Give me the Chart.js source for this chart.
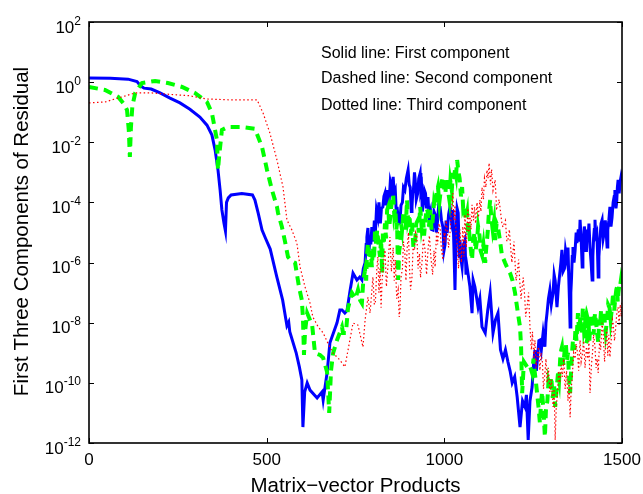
<!DOCTYPE html>
<html>
<head>
<meta charset="utf-8">
<script src="https://cdn.jsdelivr.net/npm/chart.js@4"></script>
<style>
  body { margin: 0; background: #fff; }
  #wrap { width: 643px; height: 494px; }
</style>
</head>
<body>
<div id="wrap"><canvas id="resChart" width="643" height="494"></canvas></div>
<script>
// each entry: [matrix-vector products, log10 of the residual component]
const blueData = [[0,0.14],[60,0.13],[110,0.10],[135,0.02],[145,-0.12],[155,-0.20],[175,-0.23],[200,-0.36],[228,-0.53],[256,-0.69],[284,-0.90],[312,-1.16],[332,-1.43],[346,-1.76],[355,-2.26],[363,-2.92],[369,-3.59],[374,-4.25],[380,-4.70],[384,-4.95],[387,-4.00],[392,-3.85],[400,-3.75],[430,-3.70],[460,-3.75],[467,-3.92],[476,-4.35],[487,-4.92],[497,-5.20],[510,-5.55],[528,-6.45],[545,-7.25],[557,-8.10],[562,-7.98],[565,-8.30],[583,-9.00],[592,-9.47],[599,-9.90],[602,-11.47],[607,-10.30],[614,-10.00],[622,-10.24],[642,-10.50],[656,-10.30],[659,-10.57],[670,-9.67],[678,-8.67],[698,-8.00],[706,-7.58],[712,-7.58],[720,-7.68],[726,-7.60],[735,-6.91],[743,-6.35],[754,-6.58],[762,-6.48],[768,-6.58],[772,-6.20],[777,-6.00],
    [780,-5.40],[782,-5.15],[785,-4.85],[788,-5.60],[791,-5.10],[793,-5.40],[796,-4.82],[800,-5.30],[803,-4.60],[805,-5.25],[809,-4.25],[813,-4.49],[816,-4.00],[820,-4.70],[823,-4.20],[827,-4.15],[830,-3.80],[833,-3.69],[836,-4.10],[839,-3.59],[842,-4.20],[845,-3.90],[848,-3.30],[850,-3.40],[853,-3.80],[856,-3.15],[859,-3.70],[862,-3.60],[865,-4.40],[867,-4.15],[871,-4.70],[875,-4.68],[878,-4.10],[882,-4.00],[885,-3.50],[889,-3.59],[893,-3.20],[898,-2.92],[901,-3.40],[904,-3.50],[907,-4.30],[909,-4.15],[911,-3.70],[913,-3.60],[916,-3.00],[918,-3.25],[921,-3.90],[925,-3.70],[928,-3.20],[932,-3.02],[934,-3.60],[936,-3.50],[938,-4.30],[940,-4.15],[944,-3.60],[947,-3.70],[950,-4.20],[954,-3.82],[957,-4.50],[961,-4.30],[964,-4.90],[968,-4.92],[971,-4.30],[974,-4.40],[978,-5.00],[981,-4.60],[984,-4.10],[988,-4.15],[992,-4.60],[996,-4.82],[999,-5.60],[1002,-5.40],[1005,-4.60],[1008,-5.02],[1012,-4.40],[1016,-4.15],[1020,-4.60],[1024,-4.25],[1027,-5.50],[1030,-6.91],[1033,-5.00],[1036,-4.20],[1039,-4.35],[1042,-5.80],[1044,-5.25],[1047,-5.90],[1050,-6.15],[1054,-5.40],[1058,-5.25],[1061,-6.40],[1064,-6.15],
    [1072,-6.80],[1078,-7.68],[1081,-6.58],[1086,-6.81],[1095,-7.48],[1100,-7.20],[1106,-8.14],[1115,-8.34],[1122,-7.60],[1129,-7.00],[1137,-8.34],[1144,-7.90],[1151,-7.68],[1158,-8.90],[1165,-9.20],[1172,-8.90],[1179,-9.30],[1185,-9.60],[1191,-10.00],[1198,-9.80],[1205,-10.47],[1213,-11.47],[1220,-10.60],[1227,-10.80],[1231,-10.40],[1236,-11.90],[1241,-10.60],
    [1247,-10.14],[1251,-9.40],[1255,-8.91],[1259,-9.60],[1262,-9.20],[1266,-8.60],[1269,-8.58],[1273,-8.90],[1278,-8.34],[1283,-8.80],[1286,-8.00],[1289,-7.68],[1293,-7.20],[1297,-6.91],[1301,-7.40],[1306,-7.01],[1309,-6.40],[1312,-6.60],[1317,-7.48],[1321,-6.80],[1325,-6.35],[1328,-6.00],[1331,-5.58],[1334,-6.30],[1338,-6.20],[1341,-5.60],[1345,-5.91],[1348,-5.50],[1350,-6.40],[1352,-7.20],[1354,-8.14],[1356,-7.00],[1358,-6.50],[1360,-5.80],[1362,-5.48],[1365,-6.00],[1368,-5.60],[1371,-5.00],[1373,-5.35],[1377,-4.90],[1380,-5.30],[1382,-4.58],[1385,-5.20],[1388,-6.15],[1390,-5.60],[1392,-5.20],[1394,-4.80],[1396,-5.02],[1398,-5.60],[1400,-5.60],[1402,-4.90],[1404,-5.25],[1407,-4.70],[1410,-5.50],[1413,-6.00],[1416,-6.58],[1418,-5.80],[1420,-5.20],[1422,-4.90],[1424,-4.58],[1426,-5.10],[1429,-5.00],[1431,-5.60],[1433,-6.48],[1435,-5.80],[1438,-5.20],[1441,-4.70],[1444,-4.58],[1447,-5.20],[1450,-5.00],[1453,-4.60],[1456,-5.10],[1458,-5.48],[1460,-4.90],[1463,-4.60],[1466,-4.15],[1469,-4.80],[1472,-4.50],[1475,-4.00],[1478,-3.80],[1480,-3.59],[1483,-4.20],[1485,-4.00],[1487,-3.50],[1489,-3.25],[1492,-3.70],[1495,-3.30],[1498,-3.10],[1500,-3.19]];

const greenData = [[0,-0.16],[45,-0.26],[82,-0.49],[100,-0.75],[107,-0.93],[112,-1.60],[115,-2.49],[118,-1.50],[122,-0.80],[130,-0.36],[149,-0.03],[186,0.04],[222,-0.03],[262,-0.16],[298,-0.36],[332,-0.66],[346,-1.03],[360,-1.92],[363,-2.92],[366,-2.50],[374,-1.59],[391,-1.49],[430,-1.49],[467,-1.55],[487,-2.16],[501,-2.92],[515,-3.59],[529,-4.15],[532,-4.35],[543,-4.82],[552,-5.32],[560,-5.81],[570,-5.95],[580,-6.01],[591,-6.81],[599,-7.25],[602,-7.81],[605,-9.07],[608,-8.30],[614,-7.68],[628,-8.08],[636,-9.01],[650,-9.07],[659,-9.17],[670,-9.64],[676,-11.00],[681,-9.60],[687,-9.01],[698,-8.58],[712,-8.14],[715,-8.34],[723,-8.34],[729,-7.51],[740,-7.01],[750,-7.20],[757,-6.91],[763,-7.25],[768,-7.35],[772,-6.58],[777,-6.25],
    [780,-6.60],[782,-5.81],[785,-5.35],[788,-5.90],[790,-6.15],[793,-5.60],[796,-6.15],[799,-5.48],[802,-5.90],[805,-4.92],[808,-5.40],[811,-4.92],[815,-5.40],[819,-5.81],[822,-5.20],[825,-6.35],[827,-5.02],[830,-5.30],[833,-4.70],[836,-5.20],[839,-4.25],[842,-4.15],[845,-4.80],[847,-4.58],[851,-4.10],[856,-3.75],[859,-4.40],[862,-4.20],[865,-4.90],[867,-4.68],[870,-6.58],[873,-5.60],[876,-5.40],[878,-4.70],[881,-4.92],[885,-4.30],[888,-4.40],[891,-4.90],[895,-3.92],[898,-4.60],[902,-4.40],[905,-5.10],[909,-4.68],[913,-5.50],[918,-5.25],[921,-4.70],[925,-4.60],[928,-5.00],[932,-4.15],[936,-4.80],[940,-4.50],[943,-5.10],[946,-4.68],[950,-4.20],[953,-4.30],[957,-4.80],[960,-4.25],[964,-4.90],[967,-4.60],[971,-4.00],[974,-4.15],[978,-3.70],[982,-3.49],[986,-4.00],[990,-3.60],[993,-3.30],[996,-3.15],[1000,-3.60],[1003,-3.70],[1006,-3.20],[1010,-3.59],[1014,-3.90],[1017,-3.30],[1021,-3.60],[1024,-3.02],[1027,-3.30],[1030,-2.90],[1033,-3.10],[1036,-2.59],[1040,-3.00],[1043,-3.20],[1047,-3.80],[1050,-3.49],[1053,-4.20],[1056,-4.10],[1060,-4.60],[1064,-4.35],[1067,-5.10],[1070,-5.00],[1074,-5.50],[1078,-5.91],[1081,-5.30],[1085,-5.00],[1088,-5.60],[1092,-5.25],[1095,-4.80],[1099,-5.10],[1102,-5.60],[1106,-5.75],[1110,-5.40],[1115,-6.01],[1118,-5.50],[1122,-5.00],[1125,-4.40],[1129,-3.92],[1132,-4.50],[1136,-4.90],[1140,-4.60],[1143,-5.25],[1147,-4.70],[1151,-4.82],
    [1157,-5.30],[1162,-5.75],[1171,-6.01],[1178,-6.20],[1185,-6.35],[1192,-6.60],[1199,-7.01],[1207,-7.68],[1213,-8.14],[1216,-8.80],[1219,-10.34],[1224,-9.30],[1233,-9.47],[1240,-9.40],
    [1247,-9.67],[1251,-9.20],[1254,-9.60],[1258,-10.00],[1261,-10.34],[1265,-10.80],[1269,-11.34],[1272,-10.70],[1275,-10.30],[1279,-10.90],[1283,-11.80],[1286,-10.90],[1290,-10.60],[1293,-10.00],[1297,-10.24],[1301,-9.80],[1305,-10.50],[1309,-10.10],[1312,-10.80],[1316,-10.20],[1320,-9.67],[1323,-9.90],[1326,-9.20],[1329,-8.90],[1331,-8.81],[1335,-9.40],[1338,-9.00],[1342,-8.70],[1345,-9.24],[1348,-9.00],[1350,-9.60],[1352,-10.00],[1354,-10.34],[1356,-9.80],[1358,-9.30],[1360,-8.90],[1362,-8.58],[1366,-8.90],[1369,-8.20],[1372,-8.60],[1376,-7.68],[1379,-8.30],[1383,-7.80],[1386,-8.40],[1390,-7.48],[1393,-8.20],[1396,-8.00],[1399,-8.70],[1402,-8.58],[1404,-7.90],[1406,-8.00],[1408,-8.60],[1410,-8.24],[1413,-7.70],[1417,-7.80],[1420,-8.40],[1424,-7.68],[1427,-8.00],[1430,-8.30],[1433,-8.67],[1436,-7.90],[1438,-8.10],[1441,-7.60],[1444,-8.14],[1447,-7.60],[1451,-7.90],[1454,-8.30],[1458,-7.91],[1461,-7.40],[1465,-7.50],[1468,-7.90],[1472,-7.48],[1475,-7.01],[1478,-7.60],[1481,-7.20],[1484,-6.90],[1486,-6.81],[1488,-7.30],[1490,-7.00],[1493,-6.70],[1495,-6.75],[1498,-6.50],[1500,-6.60]];

const redData = [[0,-0.69],[45,-0.66],[93,-0.49],[130,-0.36],[177,-0.36],[220,-0.40],[280,-0.45],[332,-0.56],[400,-0.59],[473,-0.59],[490,-1.03],[509,-1.69],[529,-2.59],[546,-3.49],[557,-4.58],[571,-4.92],[585,-5.35],[594,-6.15],[608,-6.81],[622,-7.35],[630,-7.81],[645,-8.14],[659,-8.34],[673,-8.70],[687,-9.01],[706,-9.24],[720,-9.47],[729,-8.91],[743,-8.01],[757,-8.08],[771,-8.81],[777,-7.91],[785,-7.15],[791,-7.68],
    [799,-6.48],[803,-7.40],[806,-7.30],[810,-6.20],[813,-5.81],[816,-7.00],[819,-6.20],[822,-7.50],[825,-6.58],[829,-6.00],[833,-5.58],[837,-6.80],[842,-6.01],[845,-5.40],[847,-5.15],[851,-6.30],[856,-5.50],[859,-6.60],[862,-5.91],[866,-7.20],[870,-6.91],[873,-7.81],[875,-7.60],[878,-6.50],[882,-6.20],[885,-5.30],[889,-5.70],[892,-6.60],[895,-5.58],[899,-5.00],[902,-6.20],[905,-6.90],[909,-6.48],[912,-5.50],[916,-5.60],[919,-5.00],[923,-5.15],[926,-6.20],[930,-5.70],[933,-6.50],[937,-6.01],[941,-5.20],[946,-5.60],[950,-6.40],[954,-5.58],[958,-5.10],[962,-5.80],[967,-6.40],[971,-5.60],[974,-6.15],[978,-5.00],[981,-5.40],[985,-4.70],[988,-4.82],[992,-5.60],[996,-5.91],[999,-5.00],[1002,-5.20],[1005,-4.60],[1008,-4.92],[1012,-5.50],[1016,-5.00],[1020,-4.30],[1024,-3.69],[1027,-4.60],[1030,-4.10],[1033,-5.00],[1036,-5.50],[1040,-6.20],[1044,-4.90],[1048,-6.00],[1052,-4.80],[1055,-5.80],[1058,-4.40],[1062,-5.50],[1066,-4.20],[1069,-5.00],[1072,-4.40],[1075,-4.90],[1078,-4.08],[1082,-4.60],[1085,-4.15],[1088,-4.70],[1092,-4.00],[1096,-4.50],[1100,-3.92],[1103,-4.30],[1106,-3.50],[1110,-3.90],[1113,-3.20],[1117,-3.50],[1120,-2.92],[1123,-3.20],[1126,-2.69],[1130,-3.40],[1133,-2.90],[1137,-3.60],[1143,-3.25],[1147,-4.20],[1150,-4.15],[1154,-3.90],[1158,-4.30],[1162,-4.70],[1165,-4.82],
    [1172,-4.60],[1176,-5.30],[1179,-5.25],[1183,-4.90],[1186,-5.40],[1190,-6.00],[1193,-5.68],[1196,-5.30],[1199,-6.00],[1202,-6.60],[1205,-6.35],[1209,-5.90],[1212,-6.60],[1216,-7.20],[1219,-6.81],[1222,-6.50],[1226,-7.10],[1229,-7.80],[1233,-7.48],[1237,-7.00],
    [1241,-8.14],[1245,-8.90],[1248,-8.30],[1252,-9.20],[1255,-8.58],[1258,-9.50],[1261,-9.14],[1265,-8.80],[1269,-9.58],[1272,-9.00],[1276,-9.30],[1279,-10.20],[1283,-9.70],[1286,-9.20],[1289,-10.00],[1293,-9.50],[1297,-10.30],[1301,-9.90],[1306,-10.80],[1309,-10.20],[1312,-11.90],[1315,-10.80],[1318,-10.40],[1322,-9.60],[1325,-10.00],[1329,-9.40],[1332,-9.80],[1336,-9.20],[1340,-10.20],[1344,-9.60],[1348,-10.60],[1351,-9.90],[1354,-11.14],[1357,-10.20],[1360,-9.80],[1364,-9.00],[1368,-9.20],[1371,-8.70],[1375,-9.00],[1378,-9.60],[1382,-8.58],[1385,-9.30],[1389,-9.01],[1392,-8.60],[1396,-9.50],[1400,-8.80],[1404,-9.20],[1407,-8.60],[1410,-10.34],[1414,-9.40],[1417,-9.00],[1420,-8.40],[1424,-8.81],[1427,-9.50],[1430,-9.20],[1433,-9.67],[1437,-8.60],[1440,-8.90],[1444,-8.00],[1447,-8.34],[1451,-9.30],[1454,-8.70],[1457,-8.20],[1460,-9.10],[1463,-8.40],[1466,-9.14],[1470,-8.50],[1473,-7.90],[1475,-8.01],[1479,-8.60],[1482,-8.20],[1486,-7.60],[1489,-7.48],[1492,-8.10],[1495,-7.40],[1498,-7.80],[1500,-7.25]];

const xTicks = [0, 500, 1000, 1500];
const yTickExps = [2, 0, -2, -4, -6, -8, -10, -12];
const noteLines = ["Solid line: First component", "Dashed line: Second component", "Dotted line: Third component"];

function toPoints(rows) {
    return rows.map(r => ({ x: r[0], y: Math.pow(10, r[1]) }));
}

const FONT = '"Liberation Sans", Arial, sans-serif';

// frame, inward ticks, tick labels with superscripts, titles and notes
const decor = {
    id: "decor",
    afterDraw(chart) {
        const ctx = chart.ctx;
        const a = chart.chartArea;
        const xs = chart.scales.x, ys = chart.scales.y;
        ctx.save();
        ctx.strokeStyle = "#000";
        ctx.lineWidth = 1;
        ctx.beginPath();
        xTicks.forEach(v => {
            const px = Math.round(xs.getPixelForValue(v)) + 0.5;
            ctx.moveTo(px, a.bottom); ctx.lineTo(px, a.bottom - 5);
            ctx.moveTo(px, a.top); ctx.lineTo(px, a.top + 5);
        });
        yTickExps.forEach(e => {
            const py = Math.round(ys.getPixelForValue(Math.pow(10, e))) + 0.5;
            ctx.moveTo(a.left, py); ctx.lineTo(a.left + 5, py);
            ctx.moveTo(a.right, py); ctx.lineTo(a.right - 5, py);
        });
        ctx.stroke();
        ctx.lineWidth = 1.6;
        ctx.strokeRect(a.left, a.top, a.right - a.left, a.bottom - a.top);

        ctx.fillStyle = "#000";
        ctx.textBaseline = "alphabetic";
        // x tick labels
        ctx.font = "17px " + FONT;
        ctx.textAlign = "center";
        xTicks.forEach(v => ctx.fillText(String(v), xs.getPixelForValue(v), a.bottom + 22));
        // y tick labels 10^e
        ctx.textAlign = "right";
        yTickExps.forEach(e => {
            const py = ys.getPixelForValue(Math.pow(10, e));
            const right = a.left - 8;
            ctx.font = "12px " + FONT;
            const ew = ctx.measureText(String(e)).width;
            ctx.fillText(String(e), right, py + 2.5);
            ctx.font = "17px " + FONT;
            ctx.fillText("10", right - ew, py + 10.5);
        });
        // axis titles
        ctx.font = "20.5px " + FONT;
        ctx.textAlign = "center";
        ctx.fillText("Matrix\u2212vector Products", (a.left + a.right) / 2, 492);
        ctx.save();
        ctx.translate(28, (a.top + a.bottom) / 2 - 1);
        ctx.rotate(-Math.PI / 2);
        ctx.fillText("First Three Components of Residual", 0, 0);
        ctx.restore();
        // notes
        ctx.font = "16px " + FONT;
        ctx.textAlign = "left";
        const baseY = [58, 83, 109.5];
        noteLines.forEach((t, i) => ctx.fillText(t, 321, baseY[i]));
        ctx.restore();
    }
};

new Chart(document.getElementById("resChart").getContext("2d"), {
    type: "line",
    data: {
        datasets: [
            {
                label: "First component",
                data: toPoints(blueData),
                borderColor: "#0000ff",
                borderWidth: 3,
                order: 3
            },
            {
                label: "Second component",
                data: toPoints(greenData),
                borderColor: "#00ff00",
                borderWidth: 4,
                borderDash: [9, 6],
                order: 2
            },
            {
                label: "Third component",
                data: toPoints(redData),
                borderColor: "#ff0000",
                borderWidth: 1.2,
                borderDash: [1.5, 2.5],
                order: 1
            }
        ]
    },
    options: {
        responsive: false,
        animation: false,
        events: [],
        layout: { padding: { left: 89, top: 22, right: 21, bottom: 51 } },
        elements: { point: { radius: 0 }, line: { tension: 0, fill: false } },
        plugins: { legend: { display: false }, tooltip: { enabled: false } },
        scales: {
            x: { type: "linear", min: 0, max: 1500, display: false },
            y: { type: "logarithmic", min: 1e-12, max: 1e2, display: false }
        }
    },
    plugins: [decor]
});
</script>
</body>
</html>
